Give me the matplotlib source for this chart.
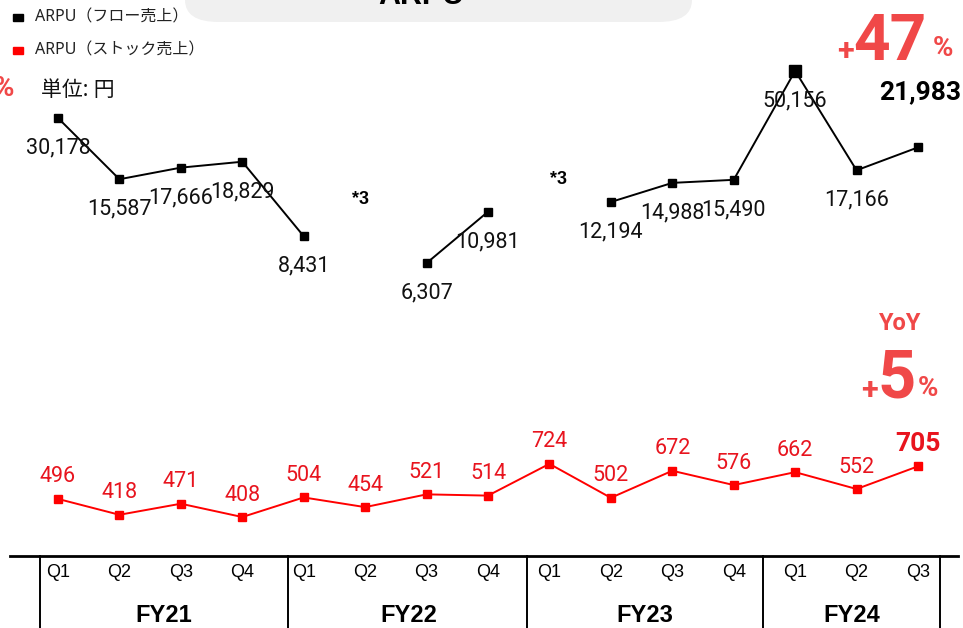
import numpy as np
import matplotlib
matplotlib.use("Agg")
import matplotlib.pyplot as plt
from matplotlib.patches import FancyBboxPatch, Rectangle
from matplotlib.lines import Line2D

# data
quarters = ["Q1", "Q2", "Q3", "Q4", "Q1", "Q2", "Q3", "Q4",
            "Q1", "Q2", "Q3", "Q4", "Q1", "Q2", "Q3"]
fiscal_years = ["FY21", "FY22", "FY23", "FY24"]
# flow ARPU is not shown for two quarters (*3)
flow_arpu = [30178, 15587, 17666, 18829, 8431, np.nan, 6307, 10981,
             np.nan, 12194, 14988, 15490, 50156, 17166, 21983]
stock_arpu = [496, 418, 471, 408, 504, 454, 521, 514,
              724, 502, 672, 576, 662, 552, 705]

W, H = 963, 628
fig = plt.figure(figsize=(W / 100, H / 100), dpi=100)


def fx(x):
    return x / W


def fy(y):
    return 1 - y / H


ax = fig.add_axes([fx(10), fy(556), fx(958) - fx(10), fy(0) - fy(556)])
x = np.arange(len(quarters))
ax.set_yscale("log")
ax.set_xlim(-0.781, 14.651)
ax.set_ylim(268.0, 107720)

flow = np.array(flow_arpu, dtype=float)
peak = int(np.nanargmax(flow))
ax.plot(x, flow, color="black", lw=1.4, zorder=3)
ax.plot(x, flow, ls="none", marker="s", ms=6, color="black", zorder=4)
ax.plot(x[peak], flow[peak], ls="none", marker="s", ms=8.5, color="black", zorder=4)

ax.plot(x, stock_arpu, color="#ff0000", lw=1.4, marker="s", ms=5.5, zorder=3)

lab_font = "Roboto"
for i, v in enumerate(flow):
    if np.isnan(v):
        continue
    if i == len(flow) - 1:
        ax.annotate(f"{int(v):,}", (x[i], v), xytext=(2, 55), textcoords="offset pixels",
                    ha="center", va="center", fontsize=19, fontweight="bold",
                    family=lab_font, color="black")
    else:
        ax.annotate(f"{int(v):,}", (x[i], v), xytext=(0, -30), textcoords="offset pixels",
                    ha="center", va="center", fontsize=15.5, family=lab_font,
                    color="#111111")

for i, v in enumerate(stock_arpu):
    last = i == len(stock_arpu) - 1
    ax.annotate(f"{v:,}", (x[i], v), xytext=(0, 22), textcoords="offset pixels",
                ha="center", va="center", fontsize=19 if last else 15.5,
                fontweight="bold" if last else "normal", family=lab_font,
                color="#e8141e")

# axis styling
for s in ["top", "left", "right"]:
    ax.spines[s].set_visible(False)
ax.spines["bottom"].set_linewidth(2)
ax.set_yticks([])
ax.yaxis.set_minor_locator(matplotlib.ticker.NullLocator())
ax.set_xticks(x)
ax.set_xticklabels(quarters, family=["Liberation Sans Narrow", "Liberation Sans"],
                   fontsize=13)
ax.tick_params(axis="x", length=0, pad=6)

# fiscal year separators and labels
for sx in [-0.293, 3.744, 7.635, 11.477, 14.36]:
    ax.add_line(Line2D([sx, sx], [0, -0.2], transform=ax.get_xaxis_transform(),
                       color="black", lw=1.4, clip_on=False))
for name, cx in zip(fiscal_years, [164, 409, 645, 852]):
    fig.text(fx(cx), fy(616), name, ha="center", va="center", fontsize=17,
             fontweight="bold", family=["Liberation Sans Narrow", "Liberation Sans"])

# title box (cut off at top)
fig.patches.append(FancyBboxPatch((fx(185), fy(22)), fx(692) - fx(185), 0.1,
                                  boxstyle="round,pad=0,rounding_size=0.035",
                                  transform=fig.transFigure, facecolor="#f0f0f0",
                                  edgecolor="none", mutation_aspect=1))
fig.text(fx(421), fy(-4), "ARPU", ha="center", va="center", fontsize=22,
         fontweight="bold", family="Liberation Sans")

# legend
jp = ["Noto Sans", "Noto Sans CJK JP", "DejaVu Sans"]
fig.patches.append(Rectangle((fx(13), fy(21)), fx(10), fy(0) - fy(7),
                             transform=fig.transFigure, color="black"))
fig.text(fx(35), fy(17), "ARPU（フロー売上）", ha="left", va="center",
         fontsize=11.5, family=jp, color="#222222")
fig.patches.append(Rectangle((fx(13), fy(54)), fx(10), fy(0) - fy(7),
                             transform=fig.transFigure, color="#ff0000"))
fig.text(fx(35), fy(50), "ARPU（ストック売上）", ha="left", va="center",
         fontsize=11.5, family=jp, color="#222222")

fig.text(fx(78), fy(90), "単位: 円", ha="center", va="center", fontsize=15,
         family=jp, color="#111111")
fig.text(fx(-6), fy(88), "%", ha="left", va="center", fontsize=20,
         fontweight="bold", family="Roboto", color="#f04848")

# *3 notes
for nx, ny in [(360, 199), (558, 179)]:
    fig.text(fx(nx), fy(ny), "*3", ha="center", va="center", fontsize=13,
             fontweight="bold", family="Liberation Sans")

# YoY highlights
red = "#f04848"
fig.text(fx(845), fy(51), "+", ha="center", va="center", fontsize=22,
         fontweight="bold", family="Roboto", color=red)
fig.text(fx(890), fy(42), "47", ha="center", va="center", fontsize=46,
         fontweight="bold", family="Roboto", color=red)
fig.text(fx(943), fy(49), "%", ha="center", va="center", fontsize=20,
         fontweight="bold", family="Roboto", color=red)

fig.text(fx(899), fy(323), "YoY", ha="center", va="center", fontsize=17,
         fontweight="bold", family="Roboto", color=red)
fig.text(fx(869), fy(390), "+", ha="center", va="center", fontsize=22,
         fontweight="bold", family="Roboto", color=red)
fig.text(fx(897), fy(379), "5", ha="center", va="center", fontsize=48,
         fontweight="bold", family="Roboto", color=red)
fig.text(fx(928), fy(389), "%", ha="center", va="center", fontsize=20,
         fontweight="bold", family="Roboto", color=red)

fig.savefig("out.png", dpi=100)
